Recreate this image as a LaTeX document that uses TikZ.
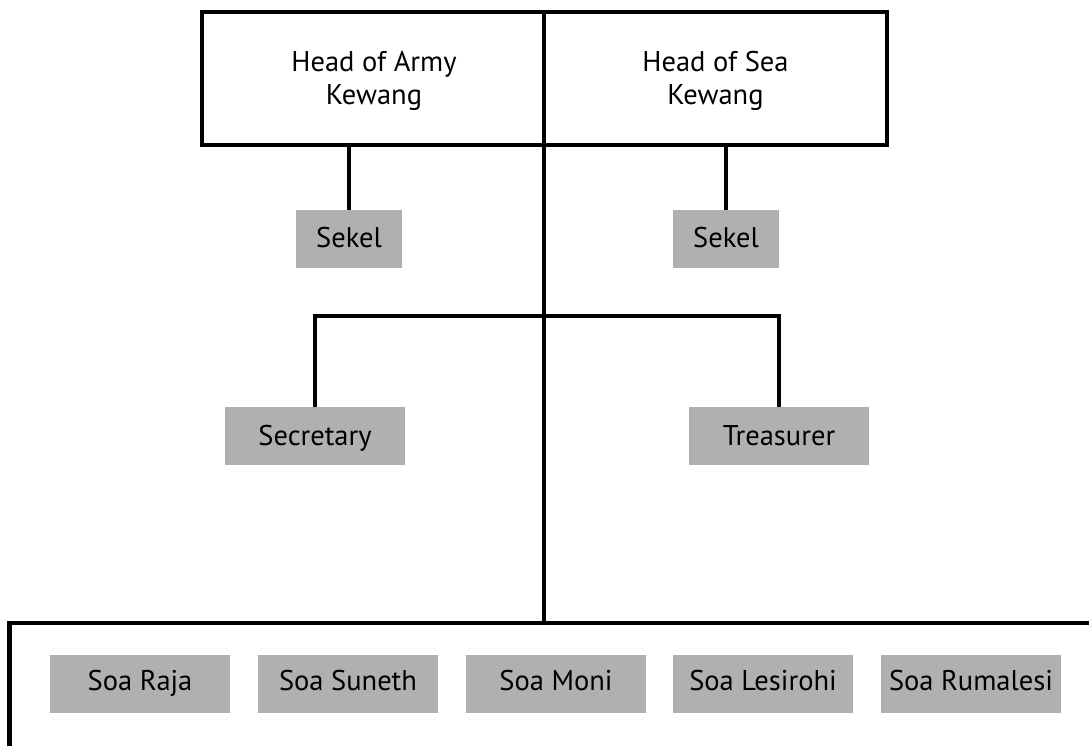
\documentclass[tikz,border=0pt]{standalone}
\usepackage{fontspec}
\setmainfont{PT Sans}
\definecolor{boxgray}{HTML}{B0B0B0}
\begin{document}
\begin{tikzpicture}[x=1pt,y=-1pt,
  line/.style={line width=4.5pt, draw=black},
  headbox/.style={draw, line width=4.5pt, minimum height=133pt, inner sep=0pt, outer sep=0pt},
  headtxt/.style={font=\fontsize{28.5}{32.5}\selectfont, align=center, inner sep=0pt},
  graybox/.style={fill=boxgray, inner sep=0pt, outer sep=0pt, minimum height=58pt, font=\fontsize{28.5}{32}\selectfont, text height=20pt},
  sekelbox/.style={graybox, minimum width=106pt, text depth=4pt},
  officebox/.style={graybox, minimum width=180pt, text depth=1pt},
  soabox/.style={graybox, minimum width=180pt, text depth=8pt}]
\useasboundingbox (0,0) rectangle (1089,746);
% head boxes
\node[headbox, minimum width=342pt] (army) at (373,78.5) {};
\node[headbox, minimum width=343pt] (sea) at (715.5,78.5) {};
\node[headtxt] (armytxt) at (374,81) {Head of Army\\Kewang};
\node[headtxt] (seatxt) at (715.5,81) {Head of Sea\\Kewang};
% sekel
\node[sekelbox] (sk1) at (349,239) {Sekel};
\node[sekelbox] (sk2) at (726,239) {Sekel};
% officers
\node[officebox] (sec) at (315,436) {Secretary};
\node[officebox] (tre) at (779,436) {Treasurer};
% soa
\node[soabox] (s1) at (140,684) {Soa Raja};
\node[soabox] (s2) at (348,684) {Soa Suneth};
\node[soabox] (s3) at (556,684) {Soa Moni};
\node[soabox] (s4) at (763,684) {Soa Lesirohi};
\node[soabox] (s5) at (971,684) {Soa Rumalesi};
% connectors
\coordinate (hub) at (544,316);
\coordinate (split) at (544,623);
\coordinate (rend) at (1089,623);
\coordinate (lend) at (9.5,746);
\draw[line] (sk1.north) -- (sk1.north |- army.south);
\draw[line] (sk2.north) -- (sk2.north |- sea.south);
\draw[line] (army.south east) -- (split);
\draw[line] (sec.north) |- (hub) -| (tre.north);
\draw[line] (rend) -- (lend |- split) -- (lend);
\end{tikzpicture}
\end{document}
